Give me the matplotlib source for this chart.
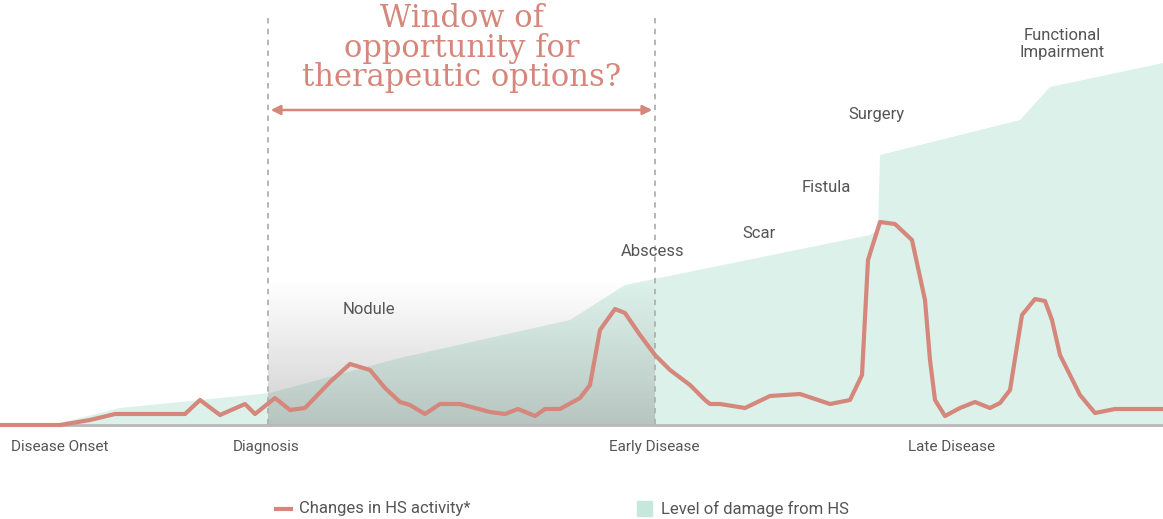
import matplotlib
matplotlib.use("Agg")
import matplotlib.pyplot as plt
import numpy as np
from matplotlib.colors import LinearSegmentedColormap

# Damage level (pixel-space coordinates of the conceptual chart)
damage_x = [0, 60, 120, 270, 400, 570, 625, 870, 878, 880, 1020, 1050, 1163]
damage_y = [425, 423, 408, 393, 358, 320, 285, 235, 230, 155, 120, 87, 63]

activity_x = [0,60,90,115,185,200,220,245,255,275,290,305,330,350,370,385,400,410,425,440,460,490,505,518,535,545,560,580,590,600,615,625,640,655,670,690,705,710,720,745,770,800,830,850,862,868,880,895,912,925,930,935,945,960,975,990,1000,1010,1022,1035,1045,1052,1060,1080,1095,1115,1163]
activity_y = [425,425,420,414,414,400,415,404,414,398,410,408,382,364,370,388,402,405,414,404,404,412,414,409,416,409,409,398,385,330,309,313,335,355,370,385,400,404,404,408,396,394,404,400,375,260,222,224,240,300,360,400,416,408,402,408,403,390,315,299,301,320,355,395,413,409,409]

stage_labels = ["Disease Onset", "Diagnosis", "Early Disease", "Late Disease"]
stage_x = [60, 266, 654, 952]
event_labels = ["Nodule", "Abscess", "Scar", "Fistula", "Surgery", "Functional\nImpairment"]
event_x = [369, 653, 759, 826, 876, 1062]
event_y = [310, 251, 234, 187, 115, 44]

fig = plt.figure(figsize=(11.63, 5.19), dpi=100)
ax = fig.add_axes([0, 0, 1, 1])
ax.set_xlim(0, 1163); ax.set_ylim(519, 0); ax.axis("off")
plt.rcParams['font.family'] = ['Roboto', 'DejaVu Sans']

ax.fill_between(damage_x, damage_y, 425, color="#c6e8dc", alpha=0.6, lw=0, zorder=1)

# grey gradient window
grad = np.linspace(0, 1, 100).reshape(-1, 1)
cmap = LinearSegmentedColormap.from_list("g", [(0.5,0.5,0.5,0.0), (0.45,0.45,0.45,0.35)])
ax.imshow(grad, extent=[268, 655, 425, 280], cmap=cmap, aspect="auto", zorder=2)

ax.plot([0, 1163], [425, 425], color="#b8b8b8", lw=2, zorder=3)
for xv in [268, 655]:
    ax.plot([xv, xv], [18, 425], color="#b0b0b0", lw=1.3, ls=(0, (3, 3)), zorder=3)
ax.plot(activity_x, activity_y, color="#d4877a", lw=3, zorder=4, solid_capstyle="round")

ax.annotate("", xy=(268, 110), xytext=(655, 110),
            arrowprops=dict(arrowstyle="<|-|>", color="#d4877a", lw=1.8, mutation_scale=14))
ax.text(462, 48, "Window of\nopportunity for\ntherapeutic options?", ha="center", va="center",
        fontsize=22, color="#d4877a", family="DejaVu Serif", linespacing=0.95)

for l, x in zip(stage_labels, stage_x):
    ax.text(x, 447, l, ha="center", va="center", fontsize=11, color="#555555")
for l, x, y in zip(event_labels, event_x, event_y):
    ax.text(x, y, l, ha="center", va="center", fontsize=12, color="#555555")

ax.plot([276, 291], [509, 509], color="#d4877a", lw=3)
ax.text(299, 509, "Changes in HS activity*", va="center", fontsize=12, color="#555555")
ax.add_patch(plt.Rectangle((637, 501), 15, 15, color="#c6e8dc"))
ax.text(661, 509, "Level of damage from HS", va="center", fontsize=12, color="#555555")

fig.savefig("out.png", dpi=100)
